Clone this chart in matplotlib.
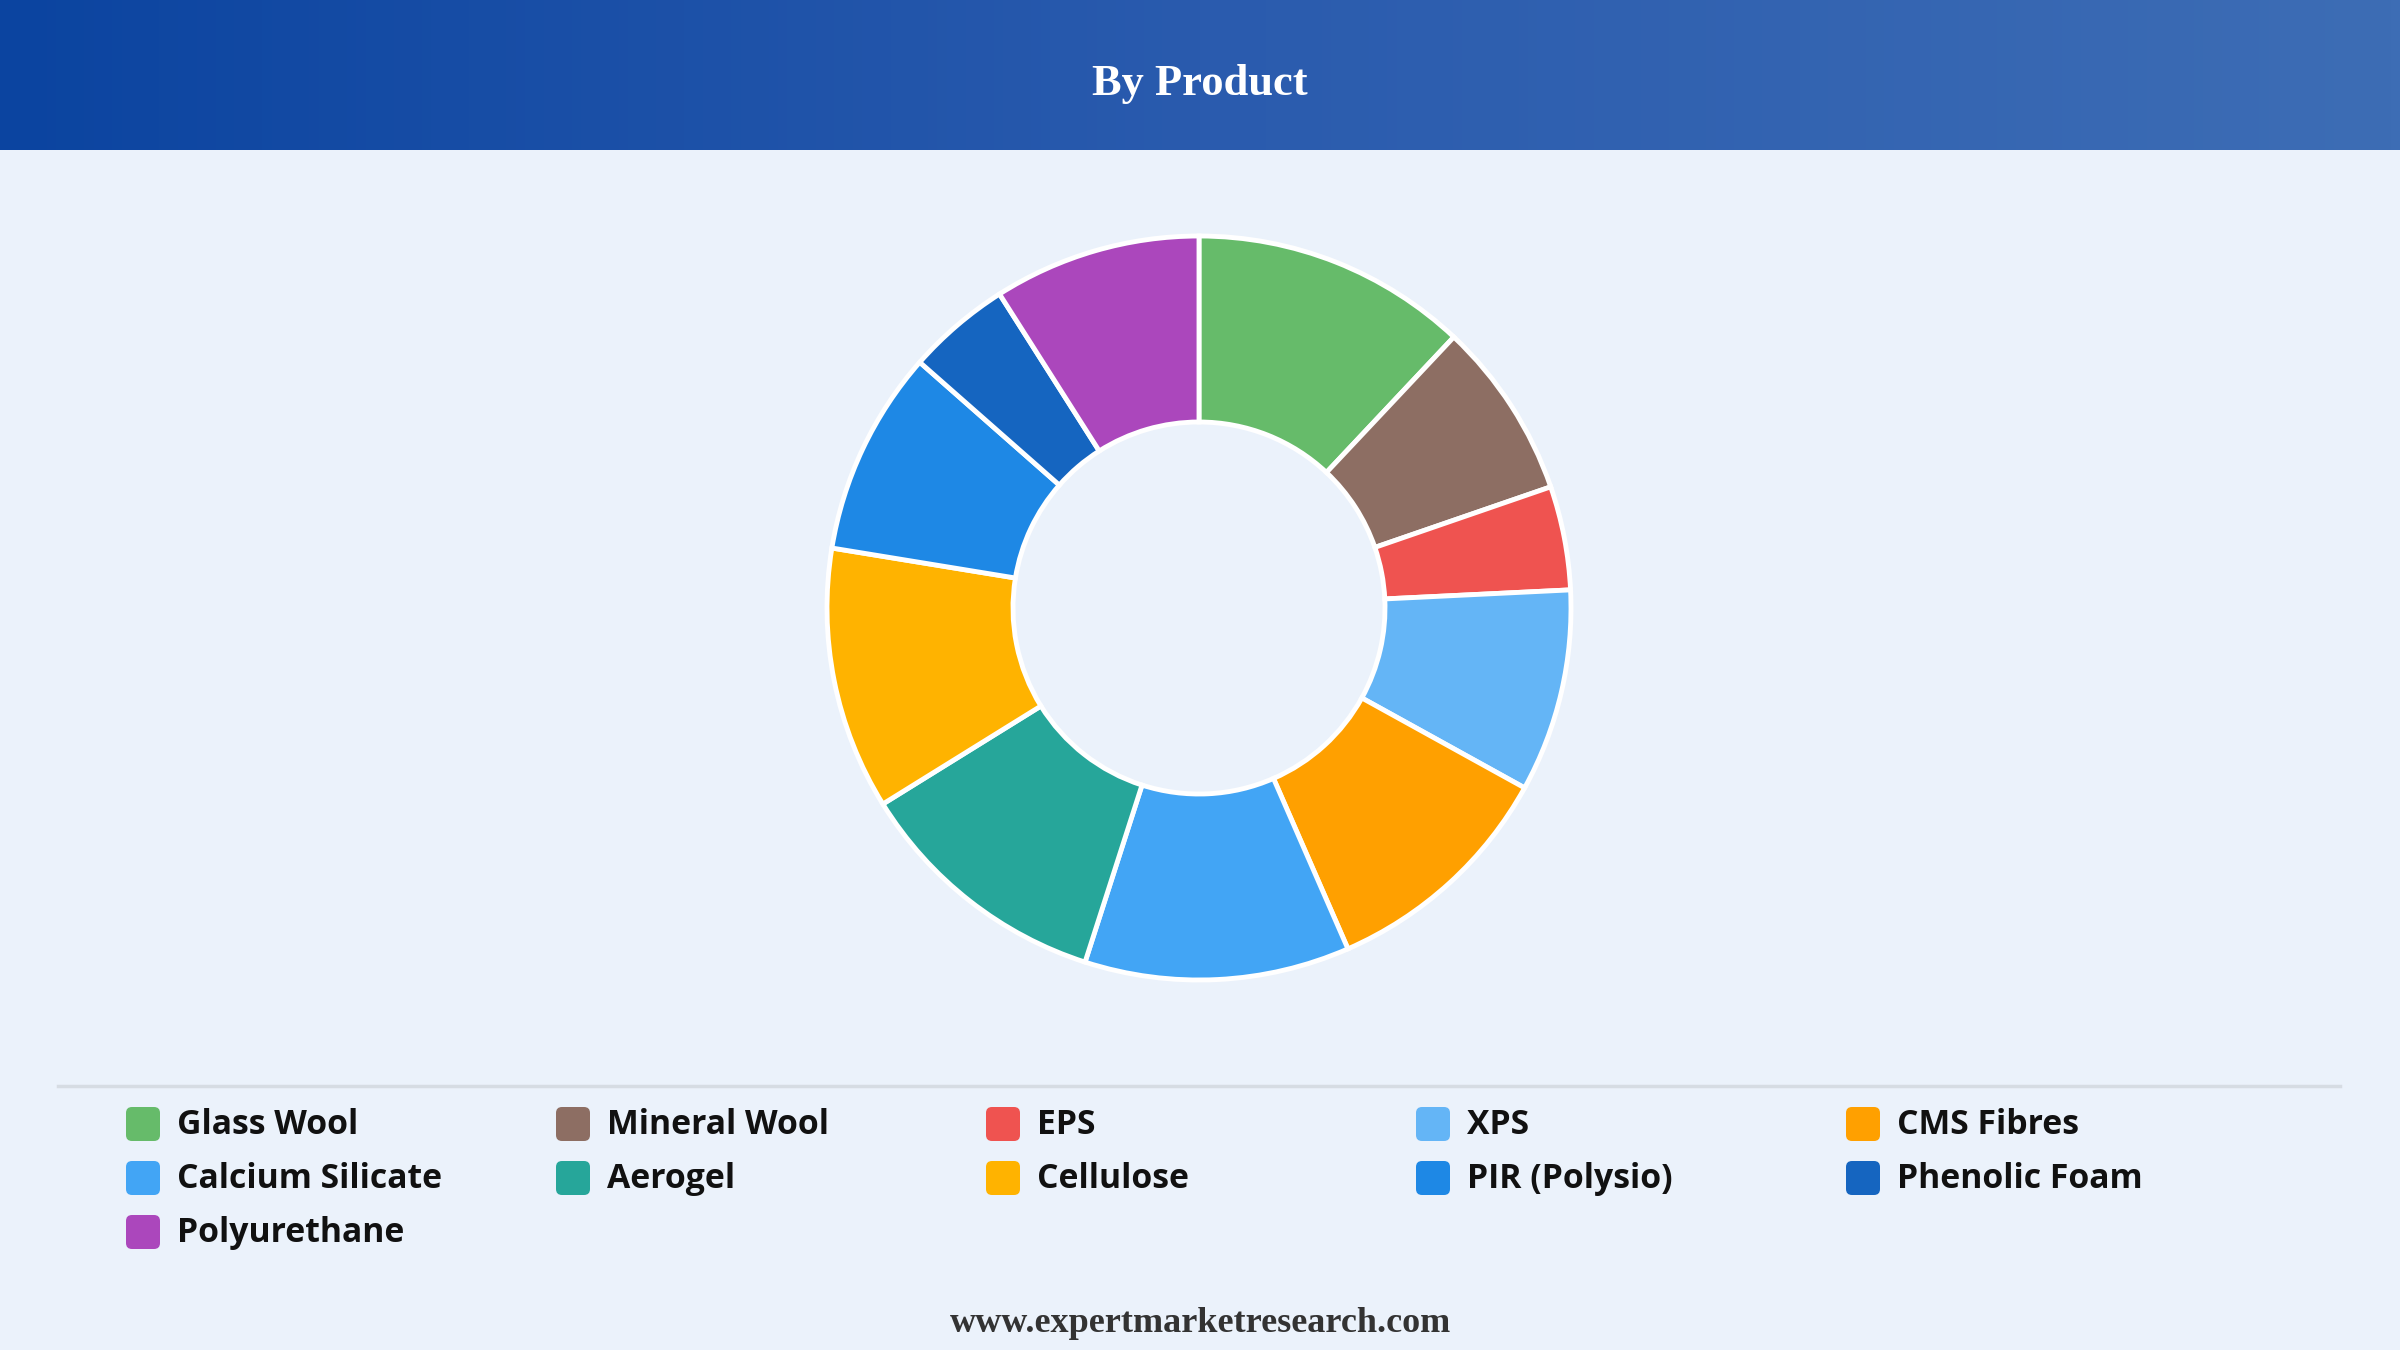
import numpy as np
import matplotlib
matplotlib.use("Agg")
import matplotlib.pyplot as plt
from matplotlib.patches import FancyBboxPatch
from matplotlib.colors import LinearSegmentedColormap

# ── Data ──────────────────────────────────────────────────────────────────────

TITLE = "By Product"
FOOTER = "www.expertmarketresearch.com"

products = ["Glass Wool", "Mineral Wool", "EPS", "XPS", "CMS Fibres",
            "Calcium Silicate", "Aerogel", "Cellulose", "PIR (Polysio)",
            "Phenolic Foam", "Polyurethane"]
shares = [12.0, 7.7, 4.5, 8.8, 10.4, 11.5, 11.2, 11.4, 8.9, 4.5, 9.0]
colors = ["#66BB6A", "#8D6E63", "#EF5350", "#64B5F6", "#FFA000",
          "#42A5F5", "#26A69A", "#FFB300", "#1E88E5", "#1565C0", "#AB47BC"]

W, H = 2400, 1350
BG = "#EBF2FB"

fig = plt.figure(figsize=(24, 13.5), dpi=100, facecolor=BG)

# ── Overlay axes in pixel coordinates ─────────────────────────────────────────
base = fig.add_axes([0, 0, 1, 1])
base.set_xlim(0, W)
base.set_ylim(H, 0)
base.axis("off")
base.set_facecolor(BG)

# header gradient
cmap = LinearSegmentedColormap.from_list("hdr", ["#0B44A0", "#2A5BAE", "#3D6DB5"])
grad = np.linspace(0, 1, 512).reshape(1, -1)
base.imshow(grad, cmap=cmap, aspect="auto", extent=[0, W, 150, 0], zorder=1)
base.text(W / 2, 84, TITLE, color="white", fontsize=32, fontweight="bold",
          family="Liberation Serif", ha="center", va="center", zorder=2)

# separator line
base.plot([58, 2340], [1086, 1086], color="#D6DCE3", linewidth=2.5, zorder=1)

# legend (row-wise, 5 columns)
col_x = [126, 556, 986, 1416, 1846]
row_y = [1124, 1178, 1232]
for i, (name, c) in enumerate(zip(products, colors)):
    x = col_x[i % 5]
    y = row_y[i // 5]
    box = FancyBboxPatch((x, y - 17), 34, 34,
                         boxstyle="round,pad=0,rounding_size=6",
                         facecolor=c, edgecolor="none", zorder=2)
    base.add_patch(box)
    base.text(x + 51, y + 1, name, fontsize=24.3, fontweight="bold",
              family="Open Sans", color="#111111", ha="left", va="center", zorder=2)

# footer
base.text(W / 2, 1323, FOOTER, fontsize=26, fontweight="bold",
          family="Liberation Serif", color="#333333", ha="center", va="center")

# ── Donut ─────────────────────────────────────────────────────────────────────
cx, cy, half = 1199, 608, 380
ax = fig.add_axes([(cx - half) / W, 1 - (cy + half) / H, 2 * half / W, 2 * half / H])
ax.set_facecolor("none")
r = 372 / half
ax.pie(shares, colors=colors, startangle=90, counterclock=False, radius=r,
       wedgeprops=dict(width=r * 0.5, edgecolor="white", linewidth=3.5))
ax.set_xlim(-1, 1)
ax.set_ylim(-1, 1)
ax.set_aspect("equal")
ax.axis("off")

fig.savefig("out.png", dpi=100, facecolor=BG)
